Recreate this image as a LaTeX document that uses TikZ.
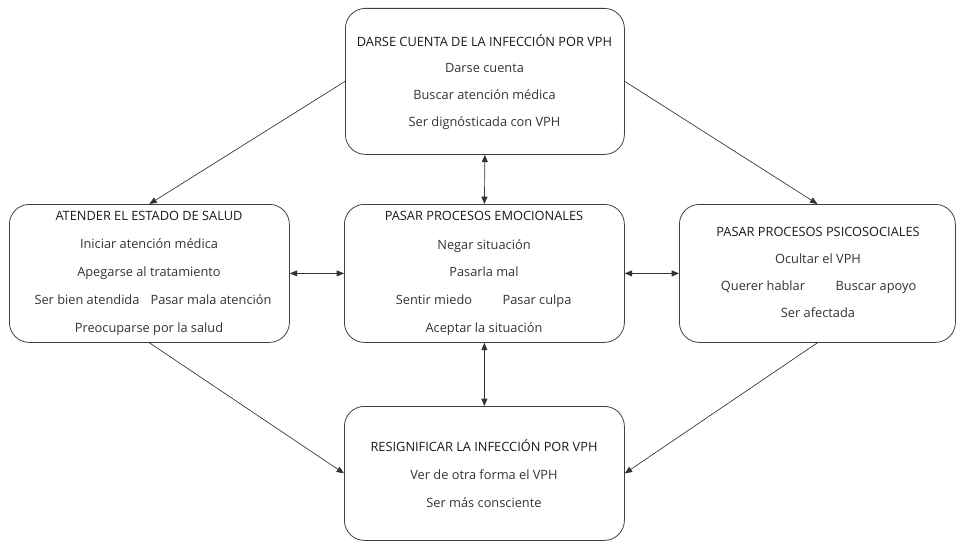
\documentclass[tikz,border=0pt]{standalone}
\usepackage{fontspec}
\setmainfont{Open Sans}
\usetikzlibrary{arrows.meta}
\begin{document}
\begin{tikzpicture}[x=0.75pt,y=-0.75pt,
  box/.style={draw=black!75,line width=0.6pt,rounded corners=15pt,inner sep=0pt,anchor=north west},
  txt/.style={font=\fontsize{9.6}{11}\selectfont,text=black!80,inner sep=0pt,text height=7pt,text depth=2.2pt,yshift=-1.3pt},
  ttl/.style={txt,text=black!90},
  conn/.style={draw=black!80,line width=0.5pt,-{Triangle[length=5.5pt,width=4.5pt]}},
  dconn/.style={draw=black!80,line width=0.5pt,{Triangle[length=5.5pt,width=4.5pt]}-{Triangle[length=5.5pt,width=4.5pt]}}]
\useasboundingbox (0,0) rectangle (956,542);
% boxes
\node[box,minimum width=279*0.75pt,minimum height=146*0.75pt] (top) at (345,8) {};
\node[box,minimum width=280*0.75pt,minimum height=138*0.75pt] (left) at (9,204) {};
\node[box,minimum width=280*0.75pt,minimum height=138*0.75pt] (mid) at (344,204) {};
\node[box,minimum width=276*0.75pt,minimum height=138*0.75pt] (right) at (679,204) {};
\node[box,minimum width=280*0.75pt,minimum height=134*0.75pt] (bot) at (344,406) {};
% top texts
\node[ttl] (t0) at (484.5,42) {DARSE CUENTA DE LA INFECCIÓN POR VPH};
\node[txt] (t1) at (484.5,68) {Darse cuenta};
\node[txt] (t2) at (484.5,95) {Buscar atención médica};
\node[txt] (t3) at (484.5,122) {Ser dignósticada con VPH};
% left texts
\node[ttl] (l0) at (149,216) {ATENDER EL ESTADO DE SALUD};
\node[txt] (l1) at (149,244) {Iniciar atención médica};
\node[txt] (l2) at (149,272) {Apegarse al tratamiento};
\node[txt] (l3) at (87,300) {Ser bien atendida};
\node[txt] (l4) at (211,300) {Pasar mala atención};
\node[txt] (l5) at (149,328) {Preocuparse por la salud};
% mid texts
\node[ttl] (m0) at (484,216) {PASAR PROCESOS EMOCIONALES};
\node[txt] (m1) at (484,245) {Negar situación};
\node[txt] (m2) at (484,272) {Pasarla mal};
\node[txt] (m3) at (434,300) {Sentir miedo};
\node[txt] (m4) at (537,300) {Pasar culpa};
\node[txt] (m5) at (484,328) {Aceptar la situación};
% right texts
\node[ttl] (r0) at (818,232) {PASAR PROCESOS PSICOSOCIALES};
\node[txt] (r1) at (818,259) {Ocultar el VPH};
\node[txt] (r2) at (763,286) {Querer hablar};
\node[txt] (r3) at (876,286) {Buscar apoyo};
\node[txt] (r4) at (818,313) {Ser afectada};
% bottom texts
\node[ttl] (b0) at (484,447) {RESIGNIFICAR LA INFECCIÓN POR VPH};
\node[txt] (b1) at (484,475) {Ver de otra forma el VPH};
\node[txt] (b2) at (484,503) {Ser más consciente};
% connectors
\draw[conn] (top.west) -- (left.north);
\draw[conn] (top.east) -- (right.north);
\draw[dconn] (top.south) -- (mid.north);
\draw[dconn] (left.east) -- (mid.west);
\draw[dconn] (mid.east) -- (right.west);
\draw[dconn] (mid.south) -- (bot.north);
\draw[conn] (left.south) -- (bot.west);
\draw[conn] (right.south) -- (bot.east);
\end{tikzpicture}
\end{document}
